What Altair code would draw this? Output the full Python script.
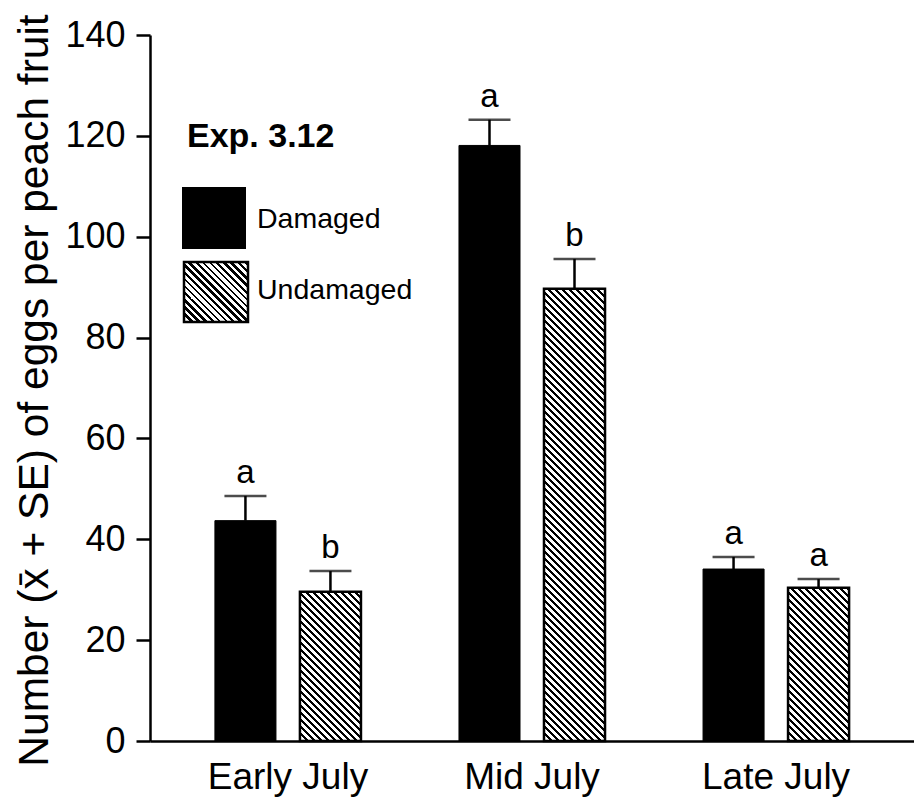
import altair as alt
import pandas as pd

FONT = "Liberation Sans"

periods = ["Early July", "Mid July", "Late July"]
series = ["Damaged", "Undamaged"]
damaged_mean = [43.7, 118.1, 34.1]
damaged_se = [4.9, 5.1, 2.4]
undamaged_mean = [29.6, 89.7, 30.4]
undamaged_se = [4.1, 5.9, 1.7]
damaged_letters = ["a", "a", "a"]
undamaged_letters = ["b", "b", "a"]
y_ticks = [0, 20, 40, 60, 80, 100, 120, 140]
panel_label = "Exp. 3.12"
y_title = "Number (x\u0304 + SE) of eggs per peach fruit"

rows = []
for i, p in enumerate(periods):
    rows.append(dict(period=p, series=series[0], mean=damaged_mean[i],
                     upper=damaged_mean[i] + damaged_se[i], letter=damaged_letters[i]))
    rows.append(dict(period=p, series=series[1], mean=undamaged_mean[i],
                     upper=undamaged_mean[i] + undamaged_se[i], letter=undamaged_letters[i]))
df = pd.DataFrame(rows)

W, H = 764, 706
Y_MAX = 140
PI, PO = 0.4016, 0.266
OPI = 0.282

step = W / (len(periods) - PI + 2 * PO)
band = step * (1 - PI)
bar_w = band / (2 - OPI) * (1 - OPI)


def hatch(w, h, period=7.0, line=3.0):
    L = w + h
    k = L / (w * w + h * h)
    stops = []
    c = 0.0
    while c < L:
        a = round(c / L, 5)
        b = round(min((c + line) / L, 1), 5)
        e = round(min((c + period) / L, 1), 5)
        stops += [
            {"offset": a, "color": "black"},
            {"offset": b, "color": "black"},
            {"offset": b, "color": "white"},
            {"offset": e, "color": "white"},
        ]
        c += period
    return {"gradient": "linear", "x1": 0, "y1": 1, "x2": k * w, "y2": 1 - k * h,
            "stops": stops}


x_enc = alt.X("period:N", sort=periods,
              scale=alt.Scale(domain=periods, paddingInner=PI, paddingOuter=PO),
              axis=alt.Axis(title=None, ticks=False, tickSize=0, labelAngle=0,
                            labelFontSize=37, labelPadding=18))
xo_enc = alt.XOffset("series:N",
                     scale=alt.Scale(domain=series, paddingInner=OPI, paddingOuter=0))
y_enc = alt.Y("mean:Q", scale=alt.Scale(domain=[0, Y_MAX], nice=False, zero=True),
              axis=alt.Axis(values=y_ticks, tickSize=14, labelFontSize=36,
                            labelPadding=11, title=y_title, titleFontSize=42.5,
                            titleFontWeight="normal", titleX=-103, titleY=H / 2 + 2,
                            titleAngle=-90, titleBaseline="alphabetic",
                            titleAlign="center"))

base = alt.Chart(df).encode(x=x_enc, xOffset=xo_enc)

layers = []
layers.append(
    base.transform_filter(alt.datum.series == series[0])
    .mark_bar(fill="black", stroke="black", strokeWidth=1)
    .encode(y=y_enc)
)
for i, p in enumerate(periods):
    h = undamaged_mean[i] * H / Y_MAX
    layers.append(
        base.transform_filter((alt.datum.series == series[1]) & (alt.datum.period == p))
        .mark_bar(fill=hatch(bar_w, h), stroke="black", strokeWidth=2.5)
        .encode(y=y_enc)
    )

layers.append(base.mark_rule(color="black", strokeWidth=2.5)
              .encode(y=alt.Y("mean:Q"), y2="upper:Q"))
layers.append(base.mark_tick(color="black", size=42, thickness=2.5, orient="horizontal")
              .encode(y=alt.Y("upper:Q")))
layers.append(base.mark_text(fontSize=33, dy=-13, baseline="alphabetic", font=FONT,
                             color="black")
              .encode(y=alt.Y("upper:Q"), text="letter:N"))

# legend
leg_df = pd.DataFrame({"label": series})
leg = alt.Chart(leg_df)
layers.append(
    leg.transform_filter(alt.datum.label == series[0])
    .mark_rect(fill="black")
    .encode(x=alt.value(32), x2=alt.value(96), y=alt.value(152), y2=alt.value(214))
)
layers.append(
    leg.transform_filter(alt.datum.label == series[1])
    .mark_rect(fill=hatch(64, 60), stroke="black", strokeWidth=2.5)
    .encode(x=alt.value(34), x2=alt.value(98), y=alt.value(227), y2=alt.value(287))
)
layers.append(
    leg.transform_filter(alt.datum.label == series[0])
    .mark_text(align="left", baseline="alphabetic", fontSize=28.5, font=FONT, color="black")
    .encode(x=alt.value(107), y=alt.value(193), text="label:N")
)
layers.append(
    leg.transform_filter(alt.datum.label == series[1])
    .mark_text(align="left", baseline="alphabetic", fontSize=28.5, font=FONT, color="black")
    .encode(x=alt.value(107), y=alt.value(264), text="label:N")
)
layers.append(
    alt.Chart(pd.DataFrame({"t": [panel_label]}))
    .mark_text(align="left", baseline="alphabetic", fontSize=34, fontWeight="bold",
               font=FONT, color="black")
    .encode(x=alt.value(37), y=alt.value(112), text="t:N")
)

chart = (
    alt.layer(*layers)
    .properties(width=W, height=H, autosize=alt.AutoSizeParams(type="none"),
                padding={"left": 150, "top": 35, "right": 0, "bottom": 60},
                background="white")
    .configure_view(strokeWidth=0)
    .configure_axis(domainColor="black", domainWidth=2.5, tickColor="black",
                    tickWidth=2.5, labelColor="black", labelFont=FONT,
                    titleFont=FONT, titleColor="black", grid=False)
)

chart.save("out.html", embed_options={"renderer": "svg", "actions": False})
